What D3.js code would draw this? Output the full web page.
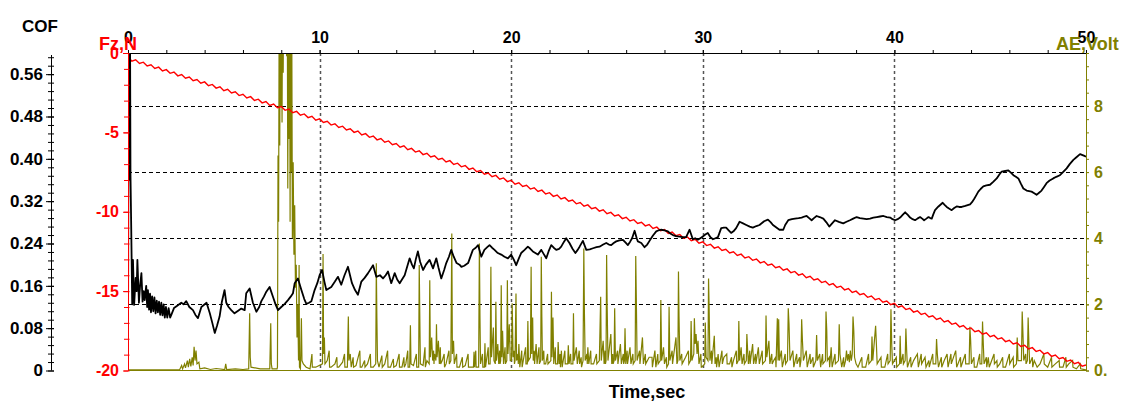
<!DOCTYPE html>
<html>
<head>
<meta charset="utf-8">
<script src="https://cdn.jsdelivr.net/npm/d3@7"></script>
<style>
  body { margin: 0; background: #fff; }
  svg { display: block; }
  text { font-family: "Liberation Sans", Arial, sans-serif; font-weight: bold; }
</style>
</head>
<body>
<svg id="chart" width="1123" height="403"></svg>
<script>
// ---- Test record: time (s), friction coefficient, normal force Fz (N), acoustic emission (V) ----

// Tick labels
const timeTicks = [0, 10, 20, 30, 40, 50];
const cofTicks = [0, 0.08, 0.16, 0.24, 0.32, 0.40, 0.48, 0.56];
const fzTicks = [0, -5, -10, -15, -20];
const aeTicks = [0, 2, 4, 6, 8];

// Coefficient of friction: [time, COF]
const cofSeries = [
  [0,0],[0.03,0.6],[0.05,0.37],[0.07,0.6],[0.09,0.36],[0.11,0.6],[0.13,0.37],[0.17,0.265],[0.22,0.125],
  [0.26,0.209],[0.32,0.124],[0.4,0.175],[0.45,0.15],[0.49,0.209],[0.57,0.128],[0.63,0.16],[0.7,0.184],
  [0.76,0.13],[0.82,0.15],[0.87,0.133],[0.95,0.16],[1.0,0.12],[1.04,0.152],[1.1,0.115],[1.15,0.145],
  [1.2,0.11],[1.26,0.14],[1.32,0.112],[1.38,0.138],[1.44,0.108],[1.5,0.132],[1.56,0.11],[1.62,0.13],
  [1.68,0.105],[1.74,0.128],[1.8,0.104],[1.86,0.125],[1.92,0.1],[1.98,0.12],[2.05,0.1],[2.12,0.118],
  [2.2,0.1],[2.26,0.105],[2.4,0.118],[2.55,0.122],[2.78,0.128],[2.9,0.125],[3.04,0.131],[3.2,0.12],
  [3.39,0.114],[3.52,0.105],[3.65,0.099],[3.83,0.12],[4.1,0.128],[4.27,0.108],[4.4,0.09],[4.53,0.071],
  [4.65,0.085],[4.78,0.102],[4.9,0.13],[5.04,0.152],[5.13,0.128],[5.25,0.12],[5.39,0.114],[5.56,0.108],
  [5.75,0.113],[5.91,0.117],[6.09,0.114],[6.17,0.146],[6.35,0.155],[6.52,0.128],[6.7,0.111],[6.85,0.12],
  [6.96,0.131],[7.1,0.14],[7.22,0.149],[7.39,0.158],[7.57,0.139],[7.7,0.125],[7.83,0.114],[8.0,0.12],
  [8.18,0.126],[8.35,0.133],[8.5,0.14],[8.61,0.146],[8.7,0.165],[8.87,0.174],[9.05,0.152],[9.2,0.135],
  [9.31,0.126],[9.45,0.128],[9.57,0.131],[9.74,0.152],[9.88,0.165],[10.0,0.18],[10.13,0.19],[10.25,0.168],
  [10.35,0.152],[10.48,0.155],[10.61,0.158],[10.8,0.168],[10.96,0.177],[11.13,0.162],[11.3,0.18],
  [11.48,0.196],[11.6,0.178],[11.69,0.165],[11.85,0.152],[12.0,0.143],[12.18,0.168],[12.35,0.175],
  [12.53,0.184],[12.79,0.199],[12.96,0.177],[13.15,0.18],[13.31,0.174],[13.45,0.18],[13.57,0.187],
  [13.74,0.165],[13.92,0.184],[14.05,0.172],[14.18,0.165],[14.3,0.172],[14.44,0.18],[14.6,0.2],
  [14.7,0.212],[14.82,0.2],[14.92,0.193],[15.02,0.21],[15.13,0.225],[15.25,0.205],[15.4,0.19],
  [15.55,0.2],[15.74,0.209],[15.92,0.193],[16.09,0.212],[16.2,0.195],[16.35,0.174],[16.5,0.19],
  [16.61,0.203],[16.75,0.215],[16.87,0.228],[17.0,0.215],[17.15,0.203],[17.3,0.2],[17.4,0.196],
  [17.55,0.198],[17.75,0.203],[17.9,0.218],[18.0,0.228],[18.15,0.232],[18.27,0.237],[18.44,0.215],
  [18.6,0.228],[18.75,0.233],[18.87,0.237],[19.0,0.232],[19.13,0.228],[19.3,0.222],[19.48,0.219],
  [19.65,0.215],[19.83,0.212],[20.0,0.219],[20.13,0.21],[20.26,0.199],[20.4,0.212],[20.52,0.222],
  [20.7,0.228],[20.87,0.234],[21.0,0.23],[21.13,0.225],[21.26,0.222],[21.39,0.219],[21.57,0.228],
  [21.7,0.22],[21.83,0.212],[21.95,0.225],[22.09,0.237],[22.22,0.232],[22.35,0.228],[22.5,0.23],
  [22.61,0.234],[22.75,0.243],[22.87,0.25],[23.04,0.241],[23.2,0.23],[23.35,0.222],[23.47,0.228],
  [23.57,0.234],[23.74,0.245],[23.92,0.228],[24.1,0.229],[24.27,0.231],[24.45,0.233],[24.61,0.234],
  [24.8,0.238],[24.96,0.241],[25.1,0.238],[25.22,0.237],[25.35,0.241],[25.48,0.244],[25.65,0.246],
  [25.83,0.247],[25.96,0.242],[26.09,0.237],[26.2,0.243],[26.31,0.25],[26.44,0.264],[26.55,0.25],
  [26.61,0.244],[26.79,0.241],[26.96,0.233],[27.1,0.238],[27.22,0.245],[27.4,0.255],[27.57,0.263],
  [27.7,0.265],[27.83,0.266],[28.0,0.265],[28.18,0.263],[28.3,0.259],[28.44,0.256],[28.6,0.254],
  [28.79,0.253],[28.95,0.252],[29.13,0.252],[29.31,0.266],[29.48,0.248],[29.6,0.25],[29.74,0.247],
  [29.87,0.25],[30.0,0.253],[30.13,0.257],[30.26,0.26],[30.4,0.252],[30.53,0.248],[30.66,0.25],
  [30.79,0.252],[30.96,0.269],[31.1,0.27],[31.22,0.27],[31.35,0.265],[31.48,0.26],[31.6,0.263],
  [31.74,0.269],[31.92,0.281],[32.1,0.278],[32.27,0.275],[32.45,0.272],[32.61,0.27],[32.8,0.273],
  [32.96,0.275],[33.2,0.282],[33.4,0.285],[33.55,0.28],[33.66,0.275],[33.77,0.272],[34.0,0.266],
  [34.2,0.266],[34.3,0.275],[34.46,0.284],[34.65,0.286],[34.81,0.287],[35.0,0.288],[35.16,0.289],
  [35.3,0.291],[35.42,0.292],[35.55,0.288],[35.68,0.284],[35.8,0.288],[35.94,0.292],[36.1,0.29],
  [36.29,0.287],[36.45,0.28],[36.6,0.272],[36.75,0.278],[36.9,0.284],[37.1,0.281],[37.33,0.278],
  [37.5,0.281],[37.68,0.284],[37.85,0.287],[38.03,0.29],[38.2,0.288],[38.38,0.287],[38.55,0.286],
  [38.73,0.287],[38.9,0.289],[39.08,0.29],[39.25,0.291],[39.43,0.292],[39.6,0.29],[39.78,0.289],
  [39.9,0.286],[40.04,0.284],[40.17,0.286],[40.3,0.289],[40.43,0.294],[40.56,0.299],[40.7,0.294],
  [40.82,0.289],[40.95,0.286],[41.08,0.284],[41.2,0.287],[41.34,0.29],[41.45,0.287],[41.55,0.284],
  [41.67,0.287],[41.78,0.29],[41.87,0.288],[41.95,0.287],[42.03,0.295],[42.12,0.303],[42.3,0.31],
  [42.52,0.317],[42.62,0.313],[42.73,0.309],[42.85,0.306],[42.99,0.303],[43.12,0.307],[43.25,0.31],
  [43.38,0.309],[43.51,0.309],[43.7,0.311],[43.95,0.314],[44.05,0.318],[44.16,0.324],[44.27,0.331],
  [44.38,0.338],[44.5,0.343],[44.64,0.348],[44.8,0.35],[44.99,0.351],[45.17,0.357],[45.34,0.363],
  [45.47,0.37],[45.6,0.376],[45.78,0.377],[45.95,0.378],[46.08,0.374],[46.21,0.369],[46.34,0.366],
  [46.47,0.363],[46.6,0.353],[46.73,0.344],[46.9,0.34],[47.03,0.339],[47.16,0.338],[47.3,0.335],
  [47.42,0.332],[47.55,0.336],[47.68,0.34],[47.81,0.347],[47.94,0.354],[48.1,0.359],[48.29,0.363],
  [48.45,0.366],[48.64,0.369],[48.8,0.375],[48.99,0.382],[49.15,0.39],[49.34,0.398],[49.5,0.403],
  [49.69,0.409],[49.82,0.407],[49.95,0.405],[50,0.404]
];

// Normal force Fz (N), sampled every 0.2 s from t = 0 to 50 s
const fzStep = 0.2;
const fzValues = [
  -0.27,-0.51,-0.43,-0.66,-0.58,-0.82,-0.74,-0.97,-0.89,-1.13,-1.05,-1.28,-1.20,-1.44,-1.36,-1.59,-1.51,-1.75,-1.67,-1.90,
  -1.82,-2.06,-1.98,-2.21,-2.13,-2.37,-2.29,-2.52,-2.44,-2.68,-2.60,-2.83,-2.75,-2.99,-2.91,-3.14,-3.06,-3.30,-3.22,-3.45,
  -3.37,-3.61,-3.53,-3.76,-3.68,-3.92,-3.84,-4.07,-3.99,-4.23,-4.15,-4.38,-4.30,-4.54,-4.46,-4.69,-4.61,-4.85,-4.77,-5.00,
  -4.92,-5.16,-5.08,-5.31,-5.23,-5.47,-5.39,-5.62,-5.54,-5.78,-5.70,-5.93,-5.85,-6.09,-6.01,-6.24,-6.16,-6.40,-6.32,-6.55,
  -6.47,-6.71,-6.63,-6.86,-6.78,-7.02,-6.94,-7.17,-7.09,-7.33,-7.25,-7.48,-7.40,-7.64,-7.56,-7.79,-7.71,-7.95,-7.87,-8.10,
  -8.02,-8.26,-8.18,-8.41,-8.33,-8.57,-8.49,-8.72,-8.64,-8.88,-8.80,-9.03,-8.95,-9.19,-9.11,-9.34,-9.26,-9.50,-9.42,-9.65,
  -9.57,-9.81,-9.73,-9.96,-9.88,-10.12,-10.04,-10.27,-10.19,-10.43,-10.35,-10.58,-10.50,-10.74,-10.66,-10.89,-10.81,-11.05,-10.97,-11.20,
  -11.12,-11.36,-11.28,-11.51,-11.43,-11.67,-11.59,-11.82,-11.74,-11.98,-11.90,-12.13,-12.05,-12.29,-12.21,-12.44,-12.36,-12.60,-12.52,-12.75,
  -12.67,-12.91,-12.83,-13.06,-12.98,-13.22,-13.14,-13.37,-13.29,-13.53,-13.45,-13.68,-13.60,-13.84,-13.76,-13.99,-13.91,-14.15,-14.07,-14.30,
  -14.22,-14.46,-14.38,-14.61,-14.53,-14.77,-14.69,-14.92,-14.84,-15.08,-15.00,-15.23,-15.15,-15.39,-15.31,-15.54,-15.46,-15.70,-15.62,-15.85,
  -15.77,-16.01,-15.93,-16.16,-16.08,-16.32,-16.24,-16.47,-16.39,-16.63,-16.55,-16.78,-16.70,-16.94,-16.86,-17.09,-17.01,-17.25,-17.17,-17.40,
  -17.32,-17.56,-17.48,-17.71,-17.63,-17.87,-17.79,-18.02,-17.94,-18.18,-18.10,-18.33,-18.25,-18.49,-18.41,-18.64,-18.56,-18.80,-18.72,-18.95,
  -18.87,-19.11,-19.03,-19.26,-19.18,-19.42,-19.34,-19.57,-19.49,-19.73,-19.65
];

// Acoustic emission, main events: [time, volts]
const aeSeries = [
  [0,0.02],[2.7,0.03],[2.8,0.15],[2.85,0.05],[2.95,0.2],[3.0,0.08],[3.1,0.3],[3.15,0.1],[3.22,0.35],[3.28,0.12],
  [3.35,0.4],[3.4,0.15],[3.45,0.72],[3.5,0.3],[3.55,0.6],[3.6,0.2],[3.7,0.25],[3.75,0.05],[4.0,0.08],[4.3,0.03],
  [4.6,0.06],[5.05,0.03],[5.1,0.2],[5.15,0.03],[5.6,0.05],[6.0,0.03],[6.3,0.05],[6.35,1.73],[6.38,0.4],[6.42,0.1],
  [6.9,0.05],[7.4,0.05],[7.45,1.43],[7.48,0.2],[7.52,0.05],[7.78,0.05],
  [7.8,0.1],[7.83,6.5],[7.86,4.5],[7.89,11],[7.92,6.8],[7.95,12],[7.98,8],[8.01,12],[8.04,7.5],[8.07,12],
  [8.10,9],[8.13,12],[8.18,12],[8.24,12],[8.28,9.5],[8.31,12],[8.34,5.5],[8.37,12],[8.40,7],[8.43,12],
  [8.46,4.5],[8.49,12],[8.52,6],[8.55,10],[8.58,4],[8.62,6.3],[8.66,3.5],[8.70,5],[8.74,2.5],[8.78,3.2],
  [8.82,1.0],[8.86,2.0],[8.90,0.3],[8.93,3.19],[8.95,0.1],
  [9.0,0.05],[9.05,1.58],[9.08,0.3],[9.15,0.2],[9.3,0.1],[9.5,0.05],[9.8,0.1],[10.15,0.2],[10.18,3.52],
  [10.21,0.5],[10.25,1.0],[10.28,0.2],[10.4,0.3],[10.6,0.1],[10.8,0.2],[11.0,0.1],[11.2,0.25],[11.45,0.1],
  [11.5,1.63],[11.53,0.3],[11.6,0.5],[11.65,0.1],[11.9,0.15],[12.2,0.1],[12.5,0.2],[12.8,0.1],[12.93,0.2],
  [12.96,3.24],[12.99,1.58],[13.02,0.3],[13.1,0.1],[13.4,0.2],[13.7,0.1],[14.0,0.15],[14.3,0.1],[14.5,0.2],
  [14.7,0.1],[14.74,1.37],[14.77,0.2],[14.9,0.15],[15.17,0.1],[15.2,3.19],[15.23,1.6],[15.26,0.2],[15.4,0.15],
  [15.6,0.3],[15.72,0.2],[15.75,2.73],[15.78,0.4],[15.85,1.0],[15.9,0.3],[16.0,0.5],[16.07,0.3],[16.1,1.4],
  [16.13,0.4],[16.2,0.9],[16.25,0.2],[16.4,0.3],[16.6,0.2],[16.85,0.3],[16.9,4.14],[16.93,0.5],[16.99,0.9],
  [17.03,0.2],[17.3,0.1],[17.6,0.15],[17.9,0.1],[18.03,0.1],[18.06,0.57],[18.09,0.1],[18.3,0.1],[18.34,3.84],
  [18.37,1.6],[18.4,0.2],[18.6,0.1],[18.63,0.82],[18.66,0.1],[18.9,0.2],[18.94,3.14],[18.97,0.4],[19.07,1.3],
  [19.1,0.3],[19.17,0.2],[19.2,2.08],[19.23,0.3],[19.3,0.8],[19.35,0.2],[19.45,0.3],[19.48,2.58],[19.51,0.4],
  [19.55,1.2],[19.6,0.2],[19.77,0.3],[19.8,2.73],[19.83,0.5],[19.9,1.4],[19.95,0.3],[20.02,0.3],[20.05,2.03],
  [20.1,0.4],[20.2,0.3],[20.25,2.33],[20.28,0.3],[20.4,0.8],[20.45,0.1],[20.6,0.2],[20.84,0.2],[20.87,1.5],
  [20.9,0.3],[21.0,0.4],[21.04,3.14],[21.07,0.5],[21.12,1.6],[21.15,0.3],[21.3,0.8],[21.35,0.2],[21.54,0.3],
  [21.57,3.44],[21.6,1.6],[21.63,0.3],[21.8,0.2],[22.07,0.3],[22.1,2.38],[22.13,0.4],[22.18,1.6],[22.22,0.2],
  [22.42,0.2],[22.45,0.86],[22.5,0.2],[22.62,0.6],[22.66,0.1],[22.95,0.2],[22.98,0.76],[23.02,0.2],[23.22,0.2],
  [23.25,1.73],[23.28,0.3],[23.4,0.7],[23.45,0.2],[23.75,0.3],[23.79,3.69],[23.82,1.8],[23.86,0.3],[24.0,0.7],
  [24.05,0.2],[24.3,0.2],[24.6,0.3],[24.67,2.23],[24.7,0.3],[24.8,0.9],[24.85,0.2],[24.95,0.3],[24.98,3.49],
  [25.01,1.9],[25.05,0.3],[25.2,1.1],[25.25,0.2],[25.37,0.3],[25.4,1.88],[25.44,0.3],[25.7,0.8],[25.75,0.2],
  [25.91,0.3],[25.94,1.28],[25.98,0.2],[26.2,0.7],[26.25,0.2],[26.47,0.3],[26.5,3.46],[26.53,2.2],[26.57,0.3],
  [26.85,1.0],[26.9,0.2],[27.2,0.4],[27.5,0.6],[27.55,0.1],[27.78,0.3],[27.81,2.13],[27.85,0.3],[27.95,0.7],
  [28.0,0.2],[28.21,0.2],[28.24,1.93],[28.28,0.3],[28.6,1.0],[28.65,0.2],[28.7,0.3],[28.73,2.99],[28.76,1.6],
  [28.8,0.3],[29.1,0.4],[29.36,0.3],[29.39,1.5],[29.43,0.3],[29.53,0.5],[29.56,1.58],[29.6,0.8],[29.65,1.1],
  [29.7,0.5],[29.75,0.9],[29.8,0.2],[29.95,0.1],[30.1,0.2],[30.13,1.45],[30.17,0.4],[30.27,0.3],[30.3,2.78],
  [30.33,1.9],[30.37,0.3],[30.6,1.05],[30.64,0.2],[30.8,0.5],[30.85,0.1],[31.1,0.4],[31.4,0.2],[31.6,0.3],
  [31.85,0.3],[31.88,1.5],[31.92,0.3],[32.0,0.7],[32.05,0.2],[32.27,0.3],[32.3,1.1],[32.34,0.6],[32.38,0.2],
  [32.6,0.8],[32.65,0.2],[32.9,0.7],[32.95,0.2],[33.27,0.3],[33.3,1.66],[33.34,0.4],[33.45,0.9],[33.5,0.2],
  [33.7,0.3],[33.89,1.58],[33.93,0.3],[33.96,1.55],[34.0,0.3],[34.1,0.6],[34.15,0.1],[34.42,0.3],[34.46,1.88],
  [34.5,1.4],[34.55,0.3],[34.7,0.6],[34.75,0.1],[35.12,0.3],[35.16,1.55],[35.2,0.9],[35.25,0.3],[35.4,0.6],
  [35.45,0.1],[35.9,0.3],[35.94,1.07],[35.98,0.3],[36.1,0.5],[36.15,0.1],[36.4,0.3],[36.43,1.78],[36.47,1.2],
  [36.5,0.3],[36.7,0.7],[36.75,0.1],[37.08,0.3],[37.12,1.4],[37.16,0.5],[37.25,0.1],[37.45,0.3],[37.5,0.6],
  [37.55,0.3],[37.6,0.5],[37.65,0.25],[37.7,0.6],[37.75,0.3],[37.8,0.5],[37.84,1.63],[37.88,1.2],[37.92,0.4],
  [38.0,0.2],[38.1,0.1],[38.5,0.1],[38.8,0.3],[38.83,1.03],[38.87,0.3],[39.02,1.35],[39.06,0.8],[39.1,0.2],
  [39.5,0.1],[39.78,0.3],[39.82,1.85],[39.86,0.8],[39.9,0.2],[40.27,0.2],[40.3,1.05],[40.34,0.2],[40.56,0.3],
  [40.6,1.27],[40.64,0.6],[40.68,0.1],[41.0,0.3],[41.2,0.5],[41.25,0.1],[41.6,0.4],[41.65,0.1],[42.16,0.2],
  [42.2,0.95],[42.24,0.5],[42.3,0.1],[42.6,0.3],[42.75,0.5],[42.8,0.1],[43.2,0.6],[43.25,0.1],[43.9,0.2],
  [43.94,1.32],[43.98,0.9],[44.02,0.2],[44.3,0.1],[44.56,0.2],[44.6,1.48],[44.64,0.8],[44.68,0.2],[44.9,0.4],
  [44.95,0.1],[45.5,0.2],[45.8,0.1],[46.37,0.2],[46.41,1.0],[46.45,0.3],[46.63,0.3],[46.67,1.78],[46.71,1.1],
  [46.75,0.3],[46.94,0.3],[46.98,1.6],[47.02,0.8],[47.06,0.2],[47.3,0.3],[47.45,0.1],[47.6,0.2],[48.0,0.1],
  [48.4,0.2],[48.8,0.1],[49.1,0.2],[49.5,0.05],[50,0.02]
];

// Acoustic emission, low-level background bursts: [time, volts]
const aeBackground = [
  [9.6,0.5],[9.62,0.1],[10.5,0.6],[10.52,0.1],[10.9,0.4],[10.92,0.1],[11.3,0.5],[11.32,0.1],[11.75,0.4],[11.77,0.1],
  [12.1,0.6],[12.12,0.1],[12.35,0.3],[12.37,0.1],[12.65,0.5],[12.67,0.1],[13.25,0.45],[13.27,0.1],[13.55,0.6],[13.57,0.1],
  [13.85,0.35],[13.87,0.1],[14.15,0.5],[14.17,0.1],[14.4,0.4],[14.42,0.1],[14.6,0.6],[14.62,0.1],[15.05,0.5],[15.07,0.1],
  [15.5,0.7],[15.52,0.1],[15.95,0.6],[15.97,0.2],[16.3,0.7],[16.32,0.2],[16.5,0.5],[16.52,0.1],[16.75,0.6],[16.77,0.2],
  [17.15,0.5],[17.17,0.1],[17.45,0.4],[17.47,0.1],[17.75,0.5],[17.77,0.1],[18.15,0.6],[18.17,0.1],[18.5,0.5],[18.52,0.1],
  [18.8,0.7],[18.82,0.2],[19.4,0.6],[19.42,0.2],[19.68,0.7],[19.7,0.2],[20.15,0.6],[20.17,0.2],[20.35,0.5],[20.37,0.2],
  [20.55,0.6],[20.57,0.1],[20.75,0.7],[20.77,0.2],[21.2,0.6],[21.22,0.2],[21.45,0.7],[21.47,0.2],[21.7,0.6],[21.72,0.2],
  [21.9,0.5],[21.92,0.2],[22.3,0.7],[22.32,0.2],[22.55,0.5],[22.57,0.1],[22.8,0.6],[22.82,0.2],[23.1,0.5],[23.12,0.2],
  [23.55,0.6],[23.57,0.2],[23.65,0.4],[23.67,0.1],[23.95,0.5],[23.97,0.2],[24.15,0.6],[24.17,0.2],[24.45,0.5],[24.47,0.2],
  [24.9,0.6],[24.92,0.2],[25.3,0.5],[25.32,0.2],[25.55,0.6],[25.57,0.2],[25.85,0.5],[25.87,0.2],[26.05,0.6],[26.07,0.2],
  [26.35,0.5],[26.37,0.2],[26.7,0.6],[26.72,0.2],[27.0,0.5],[27.02,0.2],[27.35,0.4],[27.37,0.1],[27.65,0.5],[27.67,0.2],
  [28.1,0.4],[28.12,0.1],[28.4,0.6],[28.42,0.2],[28.9,0.5],[28.92,0.2],[29.25,0.6],[29.27,0.2],[29.9,0.5],[29.92,0.1],
  [30.45,0.6],[30.47,0.2],[30.7,0.4],[30.72,0.1],[31.0,0.6],[31.02,0.2],[31.25,0.5],[31.27,0.2],[31.5,0.4],[31.52,0.1],
  [31.75,0.6],[31.77,0.2],[32.15,0.5],[32.17,0.2],[32.45,0.6],[32.47,0.2],[32.75,0.5],[32.77,0.2],[33.1,0.6],[33.12,0.2],
  [33.6,0.5],[33.62,0.2],[33.8,0.4],[33.82,0.1],[34.3,0.5],[34.32,0.2],[34.9,0.5],[34.92,0.2],[35.05,0.4],[35.07,0.1],
  [35.6,0.5],[35.62,0.2],[35.75,0.4],[35.77,0.1],[36.25,0.5],[36.27,0.2],[36.6,0.4],[36.62,0.1],[36.9,0.5],[36.92,0.2],
  [37.35,0.4],[37.37,0.1],[38.3,0.4],[38.32,0.1],[38.65,0.5],[38.67,0.2],[39.3,0.4],[39.32,0.1],[39.65,0.5],[39.67,0.2],
  [40.1,0.4],[40.12,0.1],[40.45,0.5],[40.47,0.2],[40.85,0.4],[40.87,0.1],[41.4,0.5],[41.42,0.2],[41.8,0.3],[41.82,0.1],
  [42.0,0.5],[42.02,0.2],[42.45,0.4],[42.47,0.1],[42.95,0.5],[42.97,0.2],[43.45,0.4],[43.47,0.1],[43.7,0.5],[43.72,0.2],
  [44.15,0.4],[44.17,0.1],[44.45,0.5],[44.47,0.2],[44.8,0.4],[44.82,0.1],[45.2,0.5],[45.22,0.2],[45.35,0.3],[45.37,0.1],
  [45.65,0.4],[45.67,0.1],[46.0,0.5],[46.02,0.2],[46.2,0.4],[46.22,0.1],[46.85,0.5],[46.87,0.2],[47.2,0.4],[47.22,0.1],
  [47.8,0.5],[47.82,0.2],[48.2,0.4],[48.22,0.1],[48.6,0.3],[48.62,0.1],[48.95,0.4],[48.97,0.1],[49.3,0.3],[49.32,0.1],
  [49.7,0.2],[49.72,0.05]
];

// ---- Layout ----
const svg = d3.select("#chart");
const plotLeft = 128, plotRight = 1086, plotTop = 53, plotBottom = 370.5;

const x = d3.scaleLinear().domain([0, 50]).range([plotLeft, plotRight]);
const yCof = d3.scaleLinear().domain([0, 0.6]).range([plotBottom, plotTop]);
const yFz = d3.scaleLinear().domain([-20, 0]).range([plotBottom, plotTop]);
const yAe = d3.scaleLinear().domain([0, 9.6]).range([plotBottom, plotTop]);

const OLIVE = "#808000", RED = "#ff0000";

svg.append("defs").append("clipPath").attr("id", "plot-clip")
  .append("rect").attr("x", plotLeft).attr("y", plotTop)
  .attr("width", plotRight - plotLeft).attr("height", plotBottom - plotTop);

// Grid: dashed horizontals on the AE scale, dotted verticals every 10 s
const grid = svg.append("g");
grid.selectAll("line.h").data([2, 4, 6, 8]).join("line").attr("class", "h")
  .attr("x1", plotLeft).attr("x2", plotRight)
  .attr("y1", d => Math.round(yAe(d)) + 0.5).attr("y2", d => Math.round(yAe(d)) + 0.5)
  .attr("stroke", "#000").attr("stroke-width", 1).attr("stroke-dasharray", "4,3");
grid.selectAll("line.v").data([10, 20, 30, 40]).join("line").attr("class", "v")
  .attr("x1", d => Math.round(x(d)) + 0.5).attr("x2", d => Math.round(x(d)) + 0.5)
  .attr("y1", plotTop).attr("y2", plotBottom)
  .attr("stroke", "#555").attr("stroke-width", 1.5).attr("stroke-dasharray", "3,3");

// Data traces
const plot = svg.append("g").attr("clip-path", "url(#plot-clip)");

const aeAll = aeSeries.concat(aeBackground).sort((a, b) => a[0] - b[0]);
plot.append("path").datum(aeAll)
  .attr("fill", "none").attr("stroke", OLIVE).attr("stroke-width", 1.2)
  .attr("d", d3.line().x(d => x(d[0])).y(d => yAe(d[1])));

plot.append("path").datum(fzValues)
  .attr("fill", "none").attr("stroke", RED).attr("stroke-width", 1.4)
  .attr("d", d3.line().x((d, i) => x(i * fzStep)).y(d => yFz(d)));

plot.append("path").datum(cofSeries)
  .attr("fill", "none").attr("stroke", "#000").attr("stroke-width", 1.8).attr("stroke-linejoin", "round")
  .attr("d", d3.line().x(d => x(d[0])).y(d => yCof(d[1])));

// Bottom baseline
svg.append("line").attr("x1", plotLeft).attr("x2", plotRight).attr("y1", 370.5).attr("y2", 370.5)
  .attr("stroke", OLIVE).attr("stroke-width", 1);

// ---- Axes ----
function styleAxis(g, color, size) {
  g.selectAll("path").attr("stroke", color);
  g.selectAll("line").attr("stroke", color);
  g.selectAll("text").attr("fill", color).attr("font-size", size)
    .attr("font-family", "\"Liberation Sans\", Arial, sans-serif").attr("font-weight", "bold");
}

// Top time axis
const timeMinor = d3.range(0, 50.001, 2);
const gTimeMinor = svg.append("g").attr("transform", `translate(0,${plotTop})`)
  .call(d3.axisTop(x).tickValues(timeMinor).tickSize(3).tickSizeOuter(0).tickFormat(""));
styleAxis(gTimeMinor, "#000", 16);
const gTime = svg.append("g").attr("transform", `translate(0,${plotTop})`)
  .call(d3.axisTop(x).tickValues(timeTicks).tickSize(3).tickPadding(7).tickSizeOuter(0).tickFormat(d3.format("d")));
styleAxis(gTime, "#000", 16);
gTime.select(".domain").remove();

// Left COF axis
const cofAxisX = 51;
const cofMinor = d3.range(0, 0.5921, 0.016);
const gCofMinor = svg.append("g").attr("transform", `translate(${cofAxisX},0)`)
  .call(d3.axisLeft(yCof).tickValues(cofMinor).tickSize(3).tickSizeOuter(0).tickFormat(""));
gCofMinor.selectAll(".tick line").attr("x1", 3);
styleAxis(gCofMinor, "#000", 17);
gCofMinor.select(".domain").attr("d", `M0.5,${plotTop + 2}V${plotBottom}`);
const gCof = svg.append("g").attr("transform", `translate(${cofAxisX},0)`)
  .call(d3.axisLeft(yCof).tickValues(cofTicks).tickSize(5).tickPadding(3).tickSizeOuter(0)
    .tickFormat(d => d === 0 ? "0" : d3.format(".2f")(d)));
gCof.selectAll(".tick line").attr("x1", 3);
gCof.select(".domain").remove();
styleAxis(gCof, "#000", 17);

// Fz axis (red)
const fzAxisX = 128;
const fzMinor = d3.range(-20, 0.001, 1);
const gFzMinor = svg.append("g").attr("transform", `translate(${fzAxisX},0)`)
  .call(d3.axisLeft(yFz).tickValues(fzMinor).tickSize(4).tickSizeOuter(0).tickFormat(""));
gFzMinor.selectAll(".tick line").attr("x1", 1.5);
styleAxis(gFzMinor, RED, 16);
const gFz = svg.append("g").attr("transform", `translate(${fzAxisX},0)`)
  .call(d3.axisLeft(yFz).tickValues(fzTicks).tickSize(5).tickPadding(4).tickSizeOuter(0)
    .tickFormat(d => String(d)));
gFz.select(".domain").remove();
styleAxis(gFz, RED, 16);

// AE axis (olive, right)
const aeMinor = d3.range(0, 9.601, 0.4);
const gAeMinor = svg.append("g").attr("transform", `translate(${plotRight},0)`)
  .call(d3.axisRight(yAe).tickValues(aeMinor).tickSize(3).tickSizeOuter(0).tickFormat(""));
styleAxis(gAeMinor, OLIVE, 16);
const gAe = svg.append("g").attr("transform", `translate(${plotRight},0)`)
  .call(d3.axisRight(yAe).tickValues(aeTicks).tickSize(3).tickPadding(5).tickSizeOuter(0)
    .tickFormat(d => d === 0 ? "0." : String(d)));
gAe.select(".domain").remove();
styleAxis(gAe, OLIVE, 16);

// Axis titles
svg.append("text").attr("x", 22).attr("y", 32).attr("font-size", 17).attr("fill", "#000").text("COF");
svg.append("text").attr("x", 99).attr("y", 50).attr("font-size", 18).attr("fill", RED).text("Fz,N");
svg.append("text").attr("x", 1056).attr("y", 50).attr("font-size", 18).attr("fill", OLIVE).text("AE,Volt");
svg.append("text").attr("x", 647).attr("y", 398).attr("font-size", 18).attr("fill", "#000")
  .attr("text-anchor", "middle").text("Time,sec");
</script>
</body>
</html>
